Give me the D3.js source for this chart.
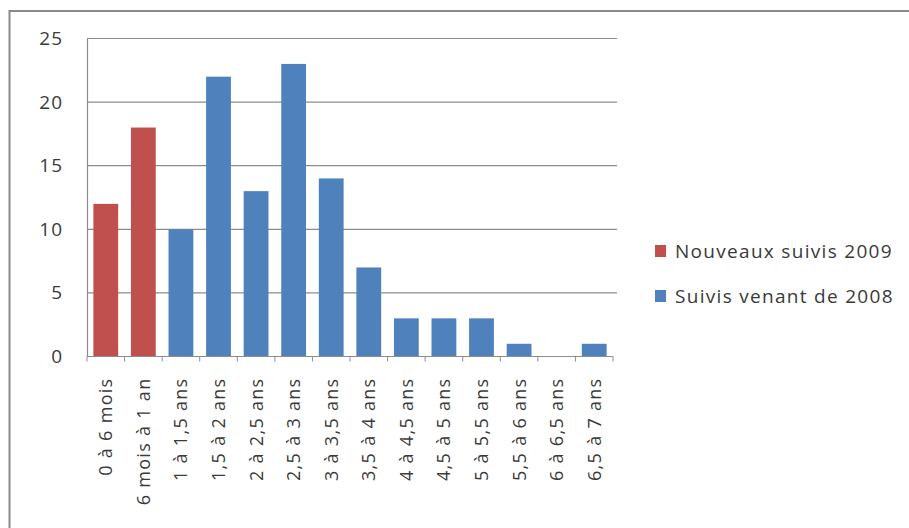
<!DOCTYPE html>
<html>
<head>
<meta charset="utf-8">
<script src="https://cdn.jsdelivr.net/npm/d3@7"></script>
<style>
  body { margin: 0; background: #fff; }
  text { font-family: "Open Sans", sans-serif; fill: #3a3a3a; }
</style>
</head>
<body>
<script>
// categories and values
var categories = ["0 à 6 mois", "6 mois à 1 an", "1 à 1,5 ans", "1,5 à 2 ans", "2 à 2,5 ans",
  "2,5 à 3 ans", "3 à 3,5 ans", "3,5 à 4 ans", "4 à 4,5 ans", "4,5 à 5 ans",
  "5 à 5,5 ans", "5,5 à 6 ans", "6 à 6,5 ans", "6,5 à 7 ans"];
var nouveaux = [12, 18, null, null, null, null, null, null, null, null, null, null, null, null];
var suivis = [null, null, 10, 22, 13, 23, 14, 7, 3, 3, 3, 1, 0, 1];
var seriesNames = ["Nouveaux suivis 2009", "Suivis venant de 2008"];
var seriesColors = ["#C0504D", "#4F81BD"];
var yTicks = [0, 5, 10, 15, 20, 25];

var svgWidth = 909;
var svgHeight = 528;

var chartMargin = { top: 38.5, left: 87, right: 296, bottom: 171.5 };
var chartWidth = svgWidth - chartMargin.left - chartMargin.right;
var chartHeight = svgHeight - chartMargin.top - chartMargin.bottom;

var svg = d3.select("body")
  .append("svg")
  .attr("width", svgWidth)
  .attr("height", svgHeight);

// outer frame (only top and left visible in the picture)
svg.append("rect")
  .attr("x", 9.5)
  .attr("y", 11)
  .attr("width", 1000)
  .attr("height", 1000)
  .attr("fill", "none")
  .attr("stroke", "#8a8a8a")
  .attr("stroke-width", 2);

var chartGroup = svg.append("g")
  .attr("transform", `translate(${chartMargin.left}, ${chartMargin.top})`);

var xBand = d3.scaleBand()
  .domain(categories)
  .range([0, 526])
  .paddingInner(0.34)
  .paddingOuter(0.17);

var yLinearScale = d3.scaleLinear()
  .domain([0, 25])
  .range([chartHeight, 0]);

// gridlines
chartGroup.selectAll(".grid")
  .data(yTicks.filter(d => d > 0))
  .enter()
  .append("line")
  .attr("class", "grid")
  .attr("x1", 0)
  .attr("x2", 530)
  .attr("y1", d => yLinearScale(d))
  .attr("y2", d => yLinearScale(d))
  .attr("stroke", "#8c8c8c")
  .attr("stroke-width", 1.2);

// y axis
var leftAxis = d3.axisLeft(yLinearScale).tickValues(yTicks).tickSize(0).tickPadding(24);
var yAxisG = chartGroup.append("g")
  .attr("class", "leftAxis")
  .call(leftAxis);
yAxisG.select(".domain").attr("stroke", "#8c8c8c").attr("stroke-width", 1.2);
yAxisG.selectAll("text")
  .style("font-size", "19px")
  .style("font-family", "Open Sans, sans-serif")
  .style("letter-spacing", "1px")
  .attr("fill", "#3a3a3a");

// bars
var seriesList = [nouveaux, suivis];
seriesList.forEach(function (values, i) {
  chartGroup.selectAll(".bar" + i)
    .data(categories.map((c, j) => ({ cat: c, value: values[j] })).filter(d => d.value != null))
    .enter()
    .append("rect")
    .attr("class", "bar" + i)
    .attr("x", d => xBand(d.cat))
    .attr("y", d => yLinearScale(d.value))
    .attr("width", xBand.bandwidth())
    .attr("height", d => chartHeight - yLinearScale(d.value))
    .attr("fill", seriesColors[i]);
});

// x axis baseline and tick marks at band boundaries
var step = xBand.step();
var tickPos = d3.range(categories.length + 1).map(k => k * step);
chartGroup.append("line")
  .attr("x1", 0)
  .attr("x2", 526)
  .attr("y1", chartHeight)
  .attr("y2", chartHeight)
  .attr("stroke", "#8c8c8c")
  .attr("stroke-width", 1.2);
chartGroup.selectAll(".xtick")
  .data(tickPos)
  .enter()
  .append("line")
  .attr("class", "xtick")
  .attr("x1", d => d)
  .attr("x2", d => d)
  .attr("y1", chartHeight)
  .attr("y2", chartHeight + 5)
  .attr("stroke", "#8c8c8c");

// rotated category labels
chartGroup.selectAll(".xlabel")
  .data(categories)
  .enter()
  .append("text")
  .attr("class", "xlabel")
  .attr("transform", d => `translate(${xBand(d) + xBand.bandwidth() / 2 + 6.5}, ${chartHeight + 21}) rotate(-90)`)
  .attr("text-anchor", "end")
  .style("font-size", "18px")
  .style("letter-spacing", "1.3px")
  .text(d => d);

// legend
var legend = svg.append("g")
  .attr("transform", "translate(655, 251)");
seriesNames.forEach(function (name, i) {
  var item = legend.append("g").attr("transform", `translate(0, ${i * 45})`);
  item.append("rect")
    .attr("x", 0)
    .attr("y", -6)
    .attr("width", 11)
    .attr("height", 12)
    .attr("fill", seriesColors[i]);
  item.append("text")
    .attr("x", 20)
    .attr("y", 7)
    .style("font-size", "19px")
    .style("letter-spacing", "1.3px")
    .text(name);
});
</script>
</body>
</html>
